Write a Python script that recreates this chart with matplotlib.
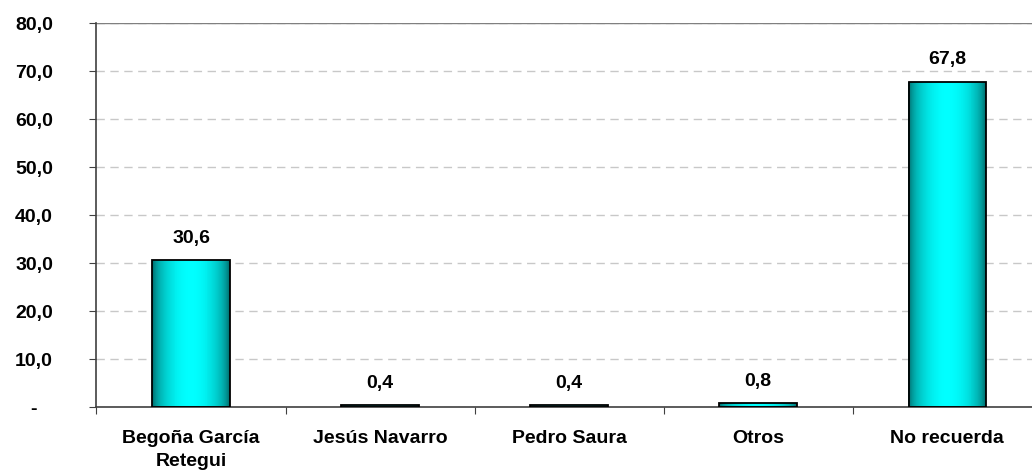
import numpy as np
import matplotlib.pyplot as plt
from matplotlib.colors import LinearSegmentedColormap

plt.rcParams['font.family'] = ['Liberation Sans', 'DejaVu Sans']

# ── data ──────────────────────────────────────────────────
categories = ["Begoña García\nRetegui", "Jesús Navarro", "Pedro Saura", "Otros", "No recuerda"]
values = [30.6, 0.4, 0.4, 0.8, 67.8]
yticks = [0, 10, 20, 30, 40, 50, 60, 70, 80]
ytick_labels = ["-", "10,0", "20,0", "30,0", "40,0", "50,0", "60,0", "70,0", "80,0"]

FS = 14

# ── figure ────────────────────────────────────────────────
fig = plt.figure(figsize=(10.32, 4.77), dpi=100)
ax = fig.add_axes([0.0935, 0.1447, 0.916, 0.805])

x = np.arange(len(categories))
bar_w = 0.41

# horizontal cylinder gradient: thin vertical strips, dark edges, cyan centre
cmap = LinearSegmentedColormap.from_list("cyl", ["#005a5a", "#00b4b4", "#00ffff"])
n_strips = 80
offs = (np.arange(n_strips) + 0.5) / n_strips
shade = cmap(np.sin(np.pi * offs) ** 0.6)
for xi, v in zip(x, values):
    ax.bar(xi - bar_w / 2 + offs * bar_w, v, width=bar_w / n_strips * 1.05,
           color=shade, linewidth=0, zorder=2)
ax.bar(x, values, width=bar_w, color="none", edgecolor="black", linewidth=1.3, zorder=3)

for xi, v in zip(x, values):
    ax.text(xi, v + 3.0, f"{v:.1f}".replace(".", ","), ha="center", va="bottom",
            fontsize=FS, fontweight="bold")

ax.set_xlim(-0.5, len(categories) - 0.5)
ax.set_ylim(0, 80)
ax.set_yticks(yticks)
ax.set_yticklabels(ytick_labels, fontsize=FS, fontweight="bold")
ax.yaxis.grid(True, linestyle=(0, (6, 4)), color="#c8c8c8", linewidth=1, zorder=0)
ax.axhline(80, color="#808080", linewidth=1, zorder=1)

ax.set_xticks(np.arange(len(categories) + 1) - 0.5)
ax.set_xticklabels([])
ax.set_xticks(x, minor=True)
ax.set_xticklabels(categories, minor=True, fontsize=FS, fontweight="bold", linespacing=1.45)
ax.tick_params(axis="x", which="minor", length=0, pad=16)
ax.tick_params(axis="x", which="major", length=5, color="#404040")
ax.tick_params(axis="y", length=5, color="#404040", pad=40)
for lbl in ax.get_yticklabels():
    lbl.set_horizontalalignment("center")

for s in ["top", "right"]:
    ax.spines[s].set_visible(False)
for s in ["left", "bottom"]:
    ax.spines[s].set_color("#404040")
    ax.spines[s].set_linewidth(1.2)
ax.set_axisbelow(True)

fig.savefig("out.png", dpi=100)
